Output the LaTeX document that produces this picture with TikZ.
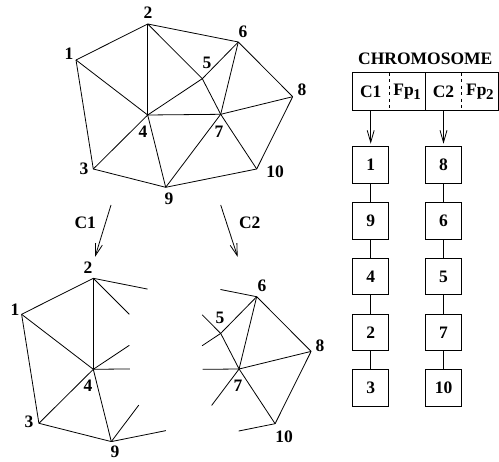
\documentclass[tikz,border=0pt]{standalone}
\usepackage{fontspec}
\setmainfont{Liberation Serif}
\usepackage{tikz}
\usetikzlibrary{arrows.meta}
\usetikzlibrary{calc}
\usetikzlibrary{positioning}

\newcommand{\lowsub}[1]{\kern-0.5pt\raisebox{-4pt}{\fontsize{15}{15}\selectfont #1}}
\newcommand{\meshpts}{1/76/60, 2/147.7/24, 3/93.3/169, 4/147.7/115, 5/202.3/78.7, 6/238.3/42, 7/220.7/114.3, 8/292.7/96.7, 9/165.7/187.3, 10/256.7/169}

\tikzset{
  mesh/.style={line width=0.8pt},
  num/.style={font=\bfseries\fontsize{17.5}{18}\selectfont, inner sep=0pt},
  cell/.style={num, minimum width=36pt, minimum height=37.3pt},
  gene/.style={num, draw, line width=0.8pt, minimum width=36pt, minimum height=36.5pt},
  pick/.style={line width=0.8pt, -{Straight Barb[length=12pt,width=7pt]}},
}

\begin{document}
\begin{tikzpicture}[x=1pt, y=-1pt]
  \useasboundingbox (0,0) rectangle (499,462);

  % whole mesh
  \foreach \n/\x/\y in \meshpts {
    \coordinate (t\n) at (\x,\y);
  }
  \foreach \a/\b in {1/2, 2/6, 6/8, 8/10, 10/9, 9/3, 3/1, 1/4, 2/4, 2/5, 5/6, 4/5, 5/7, 4/7, 6/7, 7/8, 7/10, 7/9, 4/9, 3/4} {
    \draw[mesh] (t\a) -- (t\b);
  }
  \foreach \n/\x/\y in {1/69/54, 2/148/13, 3/84/169, 4/143/132, 5/207/63, 6/243/32, 7/219/132, 8/302/90, 9/169/199, 10/275/172} {
    \node[num] (tl\n) at (\x,\y) {\n};
  }

  % split arrows
  \coordinate (c1from) at (111,205);
  \coordinate (c1to) at (95,257);
  \coordinate (c2from) at (220.7,205);
  \coordinate (c2to) at (237.7,257);
  \draw[pick] (c1from) -- (c1to) node[num, pos=0.35, left=9pt] (lc1) {C1};
  \draw[pick] (c2from) -- (c2to) node[num, pos=0.35, right=12pt] (lc2) {C2};

  % first cluster
  \begin{scope}[shift={(-54.4,254.3)}]
    \foreach \n/\x/\y in \meshpts {
      \coordinate (l\n) at (\x,\y);
    }
    \foreach \a/\b in {1/2, 1/3, 1/4, 2/4, 3/4, 3/9, 4/9} {
      \draw[mesh] (l\a) -- (l\b);
    }
    \foreach \a/\b/\t in {2/6/0.6, 2/5/0.66, 4/5/0.66, 4/7/0.5, 9/7/0.5, 9/10/0.6} {
      \draw[mesh] (l\a) -- ($(l\a)!\t!(l\b)$);
    }
    \foreach \n/\x/\y in {1/69.4/55.7, 2/142.4/13.7, 3/83.4/167.7, 4/142.4/131.7, 9/169.4/197.6} {
      \node[num] (ll\n) at (\x,\y) {\n};
    }
  \end{scope}

  % second cluster
  \begin{scope}[shift={(18.4,254.7)}]
    \foreach \n/\x/\y in \meshpts {
      \coordinate (r\n) at (\x,\y);
    }
    \foreach \a/\b in {5/6, 5/7, 6/7, 6/8, 7/8, 8/10, 7/10} {
      \draw[mesh] (r\a) -- (r\b);
    }
    \foreach \a/\b/\t in {6/2/0.4, 5/2/0.34, 5/4/0.34, 7/4/0.5, 7/9/0.5, 10/9/0.4} {
      \draw[mesh] (r\a) -- ($(r\a)!\t!(r\b)$);
    }
    \foreach \n/\x/\y in {5/201.6/63.3, 6/243.6/31.3, 7/219.6/131.3, 8/301.6/91.3, 10/265.6/182.3} {
      \node[num] (rl\n) at (\x,\y) {\n};
    }
  \end{scope}

  % chromosome
  \node[cell] (c1) at (370.7,91.4) {C1};
  \node[cell, right=0pt of c1] (fp1) {Fp\lowsub{1}};
  \node[cell, right=0pt of fp1] (c2) {C2};
  \node[cell, right=0pt of c2] (fp2) {Fp\lowsub{2}};
  \node[num, above=7.5pt] (title) at (fp1.north east) {CHROMOSOME};
  \draw[mesh] (c1.north west) rectangle (fp2.south east);
  \draw[mesh] (fp1.north east) -- (fp1.south east);
  \draw[mesh, dash pattern=on 3pt off 3.5pt] (c1.north east) -- (c1.south east);
  \draw[mesh, dash pattern=on 3pt off 3.5pt] (c2.north east) -- (c2.south east);

  \node[gene, below=36pt of c1] (a1) {1};
  \node[gene, below=18.5pt of a1] (a2) {9};
  \node[gene, below=18.5pt of a2] (a3) {4};
  \node[gene, below=18.5pt of a3] (a4) {2};
  \node[gene, below=18.5pt of a4] (a5) {3};
  \node[gene, below=36pt of c2] (b1) {8};
  \node[gene, below=18.5pt of b1] (b2) {6};
  \node[gene, below=18.5pt of b2] (b3) {5};
  \node[gene, below=18.5pt of b3] (b4) {7};
  \node[gene, below=18.5pt of b4] (b5) {10};
  \foreach \i/\j in {1/2, 2/3, 3/4, 4/5} {
    \draw[mesh] (a\i) -- (a\j);
    \draw[mesh] (b\i) -- (b\j);
  }
  \draw[pick, shorten >=2.5pt] (c1.south) -- (a1.north);
  \draw[pick, shorten >=2.5pt] (c2.south) -- (b1.north);

\end{tikzpicture}
\end{document}
